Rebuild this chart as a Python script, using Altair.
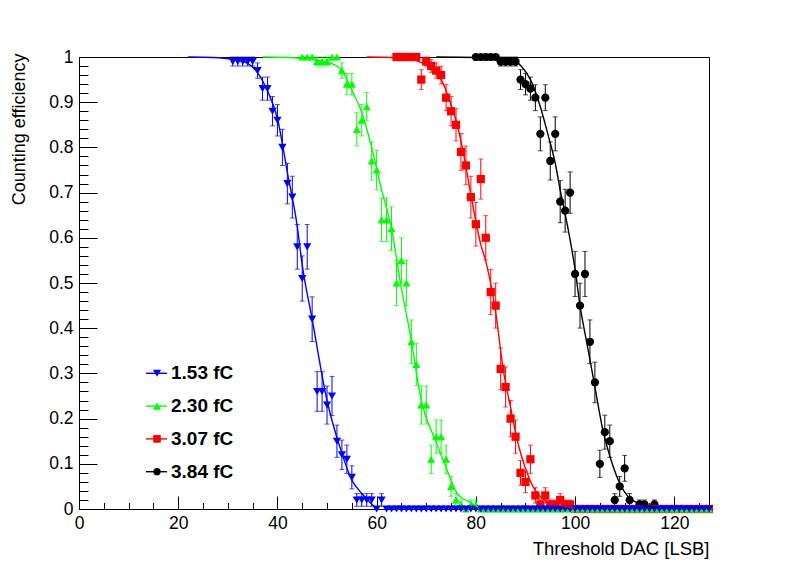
import math
import altair as alt
import pandas as pd

# ---------------- data ----------------
series_labels = ["1.53 fC", "2.30 fC", "3.07 fC", "3.84 fC"]
series_colors = ["#0000ff", "#00ff00", "#ff0000", "#000000"]
series_shapes = ["triangle-down", "triangle-up", "square", "circle"]
series_msize = [68, 68, 58, 52]
n_trials = 100

blue_x = list(range(31, 128))
blue_eff = [0.99, 0.99, 0.99, 0.99, 0.99, 0.97, 0.93, 0.93, 0.88, 0.86,
            0.80, 0.72, 0.69, 0.58, 0.51, 0.58, 0.42, 0.26, 0.26, 0.23,
            0.25, 0.15, 0.12, 0.11, 0.07, 0.02, 0.02, 0.02, 0.02, 0.00,
            0.02,
            0, 0, 0, 0, 0, 0, 0, 0, 0, 0, 0, 0, 0, 0, 0, 0, 0, 0, 0, 0, 0, 0,
            0, 0, 0, 0, 0, 0, 0, 0, 0, 0, 0, 0, 0, 0, 0, 0, 0, 0, 0, 0, 0, 0,
            0, 0, 0, 0, 0, 0, 0, 0, 0, 0, 0, 0, 0, 0, 0, 0, 0, 0, 0, 0, 0, 0]

green_x = list(range(45, 128))
green_eff = [1.00, 1.00, 1.00, 0.99, 0.99, 0.99, 1.00, 1.00, 0.97, 0.94,
             0.94, 0.84, 0.86, 0.89, 0.77, 0.75, 0.64, 0.64, 0.62, 0.50,
             0.55, 0.50, 0.37, 0.32, 0.23, 0.23, 0.11, 0.16, 0.16, 0.11,
             0.05, 0.02, 0.01, 0.00, 0.01, 0.01,
             0, 0, 0, 0, 0, 0, 0, 0, 0, 0, 0, 0, 0, 0, 0, 0,
             0, 0, 0, 0, 0, 0, 0, 0, 0, 0, 0, 0, 0, 0, 0, 0,
             0, 0, 0, 0, 0, 0, 0, 0, 0, 0, 0, 0, 0, 0, 0]

red_x = list(range(64, 128))
red_eff = [1.00, 1.00, 1.00, 1.00, 1.00, 0.95, 0.99, 0.98, 0.97, 0.96,
           0.91, 0.88, 0.85, 0.79, 0.76, 0.69, 0.63, 0.73, 0.60, 0.48,
           0.45, 0.31, 0.27, 0.20, 0.16, 0.08, 0.06, 0.11, 0.03, 0.01,
           0.03, 0.01, 0.01, 0.02, 0.01, 0.01,
           0, 0, 0, 0, 0, 0, 0, 0, 0, 0, 0, 0, 0, 0,
           0, 0, 0, 0, 0, 0, 0, 0, 0, 0, 0, 0, 0, 0]

black_x = list(range(80, 128))
black_eff = [1.00, 1.00, 1.00, 1.00, 1.00, 0.99, 0.99, 0.99, 0.99, 0.95,
             0.94, 0.93, 0.91, 0.83, 0.91, 0.77, 0.83, 0.68, 0.66, 0.70,
             0.52, 0.45, 0.52, 0.37, 0.28, 0.10, 0.17, 0.15, 0.02, 0.05,
             0.09, 0.02, 0.00, 0.01, 0.01, 0.00, 0.01,
             0, 0, 0, 0, 0, 0, 0, 0, 0, 0, 0]

# fitted curves
blue_fit_x = [22, 27, 31, 34, 36, 38, 40, 42, 44, 45, 47, 50, 53, 55, 57.3, 60]
blue_fit_y = [1.0, 0.999, 0.995, 0.986, 0.965, 0.925, 0.864, 0.745, 0.625, 0.54,
              0.42, 0.24, 0.123, 0.064, 0.031, 0.0]
green_fit_x = [37, 42, 46, 49, 50.6, 53, 55, 57, 59, 61, 63, 64.7, 67, 69, 71.8,
               74.2, 76.2, 78.9, 80.5]
green_fit_y = [1.0, 0.999, 0.996, 0.991, 0.987, 0.97, 0.927, 0.877, 0.80, 0.706,
               0.62, 0.507, 0.372, 0.24, 0.153, 0.086, 0.035, 0.014, 0.004]
red_fit_x = [58, 63, 66, 68, 70, 71, 73, 75, 76, 77.5, 79, 81, 82, 84, 85.5, 87,
             88.5, 90, 91.5, 93, 94.5, 97, 100]
red_fit_y = [1.0, 0.999, 0.997, 0.992, 0.982, 0.975, 0.95, 0.895, 0.86, 0.787,
             0.695, 0.585, 0.548, 0.435, 0.31, 0.225, 0.145, 0.09, 0.05, 0.027,
             0.015, 0.008, 0.002]
black_fit_x = [72, 80, 85, 88, 89.5, 91, 93, 94.5, 96, 97, 98.5, 100, 101, 102.5,
               104, 105.5, 107.5, 109, 111, 113, 116]
black_fit_y = [1.0, 0.999, 0.996, 0.99, 0.975, 0.95, 0.89, 0.83, 0.765, 0.706,
               0.625, 0.53, 0.45, 0.36, 0.27, 0.18, 0.10, 0.057, 0.024, 0.012, 0.004]

x_ticks = [0, 20, 40, 60, 80, 100, 120]
x_minor = [0, 5, 10, 15, 20, 25, 30, 35, 40, 45, 50, 55, 60, 65, 70, 75, 80, 85,
           90, 95, 100, 105, 110, 115, 120, 125]
y_ticks = [0.0, 0.1, 0.2, 0.3, 0.4, 0.5, 0.6, 0.7, 0.8, 0.9, 1.0]
y_minor = [round(0.02 * i, 2) for i in range(51)]

# ---------------- tables ----------------
# drawing order: black first, blue last (on top)
order = [
    (series_labels[3], black_x, black_eff, black_fit_x, black_fit_y),
    (series_labels[2], red_x, red_eff, red_fit_x, red_fit_y),
    (series_labels[1], green_x, green_eff, green_fit_x, green_fit_y),
    (series_labels[0], blue_x, blue_eff, blue_fit_x, blue_fit_y),
]
pts, caps, fits = [], [], []
for lab, xs_, ys_, fx, fy in order:
    for x, p in zip(xs_, ys_):
        err = math.sqrt(p * (1 - p) / n_trials)
        pts.append(dict(series=lab, x=x, eff=p, lo=p - err, hi=p + err, err=err))
        if err > 0:
            caps.append(dict(series=lab, x=x, cap=p - err))
            caps.append(dict(series=lab, x=x, cap=p + err))
    for x, y in zip(fx, fy):
        fits.append(dict(series=lab, x=x, fit=y))
pts_df = pd.DataFrame(pts)
err_df = pts_df[pts_df["err"] > 0]
caps_df = pd.DataFrame(caps)
fit_df = pd.DataFrame(fits)

W, H = 630, 452
FONT = "Liberation Sans"
xsc = alt.Scale(domain=[0, 127], nice=False, zero=False)
ysc = alt.Scale(domain=[0, 1], nice=False, zero=False)
col = alt.Color("series:N", scale=alt.Scale(domain=series_labels, range=series_colors), legend=None)

ax_x_labels = alt.Axis(values=x_ticks, ticks=False, tickSize=0, domain=False, grid=False,
                       labelPadding=19, labelBaseline="alphabetic", labelFontSize=17.5,
                       labelFlush=False, labelOverlap=False, format="d",
                       title="Threshold DAC [LSB]", titleX=W, titleY=45, titleAlign="right",
                       titleBaseline="alphabetic", titleFontSize=18.5, titleFontWeight="normal")
ax_y_labels = alt.Axis(values=y_ticks, ticks=False, tickSize=0, domain=False, grid=False,
                       labelPadding=6, labelFontSize=17.5, labelFlush=False, labelOverlap=False,
                       format=".1~f",
                       title="Counting efficiency", titleX=-55, titleY=-4, titleAlign="right",
                       titleAngle=270, titleBaseline="alphabetic", titleFontSize=18,
                       titleFontWeight="normal")
ax_x_major = alt.Axis(orient="top", offset=-H, values=x_ticks, tickSize=13, labels=False,
                      domain=False, grid=False, title=None, tickColor="black", tickWidth=1)
ax_y_major = alt.Axis(orient="right", offset=-W, values=y_ticks, tickSize=18, labels=False,
                      domain=False, grid=False, title=None, tickColor="black", tickWidth=1)
ax_x_minor = alt.Axis(orient="top", offset=-H, values=x_minor, tickSize=6.5, labels=False,
                      domain=False, grid=False, title=None, tickColor="black", tickWidth=1)
ax_y_minor = alt.Axis(orient="right", offset=-W, values=y_minor, tickSize=9, labels=False,
                      domain=False, grid=False, title=None, tickColor="black", tickWidth=1)

rules = alt.Chart(err_df).mark_rule(strokeWidth=1).encode(
    x=alt.X("x:Q", scale=xsc, axis=ax_x_major),
    y=alt.Y("lo:Q", scale=ysc, axis=ax_y_major),
    y2="hi:Q",
    color=col,
)
cap_marks = alt.Chart(caps_df).mark_tick(orient="horizontal", size=5, thickness=1).encode(
    x=alt.X("x:Q", scale=xsc, axis=ax_x_minor),
    y=alt.Y("cap:Q", scale=ysc, axis=ax_y_minor),
    color=col,
)
points = alt.Chart(pts_df).mark_point(filled=True, opacity=1).encode(
    x=alt.X("x:Q", scale=xsc, axis=None),
    y=alt.Y("eff:Q", scale=ysc, axis=None),
    color=col,
    shape=alt.Shape("series:N", scale=alt.Scale(domain=series_labels, range=series_shapes), legend=None),
    size=alt.Size("series:N", scale=alt.Scale(domain=series_labels, range=series_msize), legend=None),
)
lines = alt.Chart(fit_df).mark_line(strokeWidth=1.4, interpolate="monotone").encode(
    x=alt.X("x:Q", scale=xsc, axis=ax_x_labels),
    y=alt.Y("fit:Q", scale=ysc, axis=ax_y_labels),
    color=col,
)
main = alt.layer(rules, cap_marks, points, lines).resolve_axis(x="independent", y="independent")

# ---------------- legend ----------------
leg_df = pd.DataFrame({"label": series_labels, "color": series_colors,
                       "shape": series_shapes, "msize": series_msize,
                       "row": list(range(len(series_labels)))})
leg_y = alt.Y("row:Q", scale=alt.Scale(domain=[0, 3], range=[316.3, 414.7]), axis=None)
leg_line = alt.Chart(leg_df).mark_rule(strokeWidth=1.4).encode(
    x=alt.value(67), x2=alt.value(88), y=leg_y, color=alt.Color("color:N", scale=None))
leg_pt = alt.Chart(leg_df).mark_point(filled=True, opacity=1).encode(
    x=alt.value(78), y=leg_y, color=alt.Color("color:N", scale=None),
    shape=alt.Shape("shape:N", scale=None), size=alt.Size("msize:Q", scale=None))
leg_txt = alt.Chart(leg_df).mark_text(align="left", baseline="middle", font=FONT,
                                      fontWeight="bold", fontSize=19, color="black").encode(
    x=alt.value(92), y=leg_y, text="label:N")
legend = alt.layer(leg_line, leg_pt, leg_txt)

chart = alt.layer(main, legend).resolve_scale(
    x="independent", y="independent", color="independent", shape="independent", size="independent"
).properties(
    width=W, height=H,
    padding={"left": 71, "top": 49, "right": 63, "bottom": 50},
    autosize=alt.AutoSizeParams(type="none"),
    background="white",
).configure_axis(
    labelFont=FONT, titleFont=FONT, labelColor="black", titleColor="black",
).configure_view(stroke="black", strokeWidth=1)

chart.save("out.html", embed_options={"renderer": "svg", "actions": False})
